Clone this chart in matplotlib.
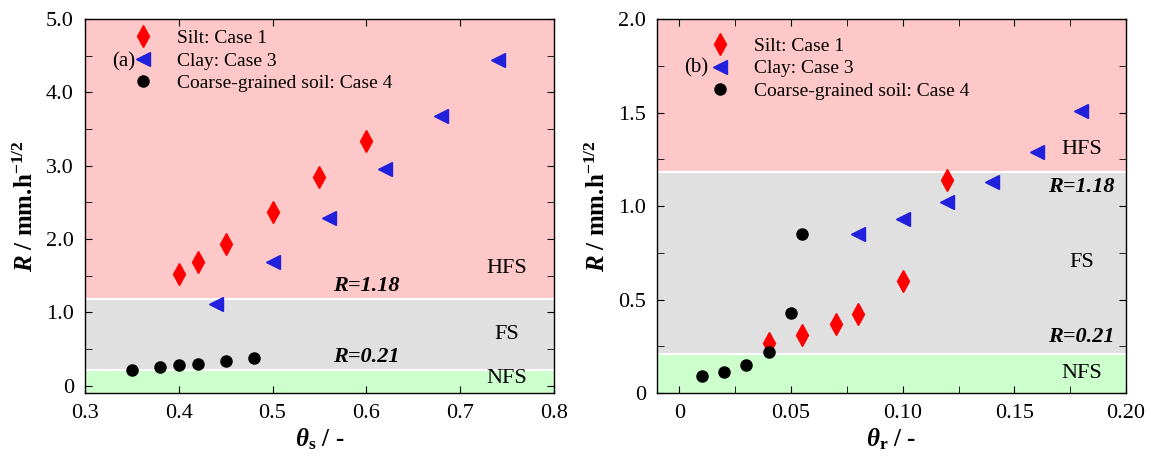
import matplotlib
matplotlib.use('Agg')
import matplotlib.pyplot as plt
from matplotlib.ticker import MultipleLocator, FuncFormatter

plt.rcParams['font.family'] = ['Liberation Serif', 'DejaVu Serif']
plt.rcParams['mathtext.fontset'] = 'custom'
plt.rcParams['mathtext.rm'] = 'Liberation Serif'
plt.rcParams['mathtext.it'] = 'Liberation Serif:italic'
plt.rcParams['mathtext.bf'] = 'Liberation Serif:bold'
plt.rcParams['mathtext.bfit'] = 'Liberation Serif:bold:italic'

## data (a): theta_s
silt_ts = [0.40, 0.42, 0.45, 0.50, 0.55, 0.60]
silt_R_a = [1.52, 1.68, 1.93, 2.37, 2.84, 3.33]
clay_ts = [0.44, 0.50, 0.56, 0.62, 0.68, 0.74]
clay_R_a = [1.12, 1.68, 2.29, 2.96, 3.68, 4.44]
coarse_ts = [0.35, 0.38, 0.40, 0.42, 0.45, 0.48]
coarse_R_a = [0.22, 0.26, 0.28, 0.30, 0.34, 0.38]

## data (b): theta_r
silt_tr = [0.04, 0.055, 0.07, 0.08, 0.10, 0.12]
silt_R_b = [0.27, 0.31, 0.37, 0.42, 0.60, 1.14]
clay_tr = [0.08, 0.10, 0.12, 0.14, 0.16, 0.18]
clay_R_b = [0.85, 0.93, 1.02, 1.13, 1.29, 1.51]
coarse_tr = [0.01, 0.02, 0.03, 0.04, 0.05, 0.055]
coarse_R_b = [0.09, 0.11, 0.15, 0.22, 0.43, 0.85]

R_hfs = 1.18
R_nfs = 0.21

labels = ['Silt: Case 1', 'Clay: Case 3', 'Coarse-grained soil: Case 4']

PINK = '#ffc8c8'
GREY = '#e0e0e0'
GREEN = '#ccffcc'
RED = '#ff0000'
BLUE = '#2020dd'


def setup_zones(ax, ymin, ymax):
    ax.axhspan(R_hfs, ymax, color=PINK, lw=0, zorder=0)
    ax.axhspan(R_nfs, R_hfs, color=GREY, lw=0, zorder=0)
    ax.axhspan(ymin, R_nfs, color=GREEN, lw=0, zorder=0)
    ax.axhline(R_hfs, color='white', lw=1.5, zorder=1)
    ax.axhline(R_nfs, color='white', lw=1.5, zorder=1)


def style_ax(ax):
    ax.tick_params(which='both', direction='in', top=True, right=True,
                   labelsize=16, pad=8, length=5)
    for s in ax.spines.values():
        s.set_linewidth(1.0)


def scatter_sets(ax, xs, ys, leg_xy):
    ax.plot(xs[0], ys[0], 'd', color=RED, ms=11, mec=RED, ls='none', label=labels[0], zorder=3)
    ax.plot(xs[1], ys[1], '<', color=BLUE, ms=10, mec=BLUE, ls='none', label=labels[1], zorder=3)
    ax.plot(xs[2], ys[2], 'o', color='black', ms=8, ls='none', label=labels[2], zorder=3)
    ax.legend(loc='upper left', bbox_to_anchor=leg_xy, frameon=False,
              fontsize=14, handlelength=1.0, handletextpad=1.25,
              labelspacing=0.25, borderpad=0, borderaxespad=0)


fig = plt.figure(figsize=(11.51, 4.65), dpi=100)
ax1 = fig.add_axes([0.0738, 0.1548, 0.4075, 0.8043])
ax2 = fig.add_axes([0.5708, 0.1548, 0.4075, 0.8043])

ylab = r'$\mathbfit{R}$ / mm.h$^{\mathbf{-1/2}}$'

# (a)
setup_zones(ax1, -0.1, 5.0)
scatter_sets(ax1, [silt_ts, clay_ts, coarse_ts], [silt_R_a, clay_R_a, coarse_R_a], (0.103, 0.972))
ax1.set_xlim(0.3, 0.8)
ax1.set_ylim(-0.1, 5.0)
ax1.xaxis.set_major_locator(MultipleLocator(0.1))
ax1.yaxis.set_major_locator(MultipleLocator(1.0))
ax1.yaxis.set_minor_locator(MultipleLocator(0.5))
ax1.yaxis.set_major_formatter(FuncFormatter(lambda v, p: '0' if abs(v) < 1e-9 else '%.1f' % v))
ax1.xaxis.set_major_formatter(FuncFormatter(lambda v, p: '%.1f' % v))
ax1.text(0.058, 0.885, '(a)', transform=ax1.transAxes, fontsize=15, va='center', ha='left')
ax1.text(0.60, 1.36, 'R=1.18', fontsize=16, fontweight='bold', style='italic', ha='center', va='center')
ax1.text(0.60, 0.39, 'R=0.21', fontsize=16, fontweight='bold', style='italic', ha='center', va='center')
ax1.text(0.75, 1.60, 'HFS', fontsize=16, ha='center', va='center')
ax1.text(0.75, 0.70, 'FS', fontsize=16, ha='center', va='center')
ax1.text(0.75, 0.10, 'NFS', fontsize=16, ha='center', va='center')
ax1.set_xlabel(r'$\mathbfit{\theta}_{\mathbf{s}}$ / -', fontsize=18, fontweight='bold', labelpad=2)
ax1.set_ylabel(ylab, fontsize=18, fontweight='bold', labelpad=6)
style_ax(ax1)

# (b)
setup_zones(ax2, 0.0, 2.0)
scatter_sets(ax2, [silt_tr, clay_tr, coarse_tr], [silt_R_b, clay_R_b, coarse_R_b], (0.1145, 0.951))
ax2.set_xlim(-0.01, 0.2)
ax2.set_ylim(0.0, 2.0)
ax2.xaxis.set_major_locator(MultipleLocator(0.05))
ax2.xaxis.set_minor_locator(MultipleLocator(0.025))
ax2.yaxis.set_major_locator(MultipleLocator(0.5))
ax2.yaxis.set_minor_locator(MultipleLocator(0.25))
ax2.yaxis.set_major_formatter(FuncFormatter(lambda v, p: '0' if abs(v) < 1e-9 else '%.1f' % v))
ax2.xaxis.set_major_formatter(FuncFormatter(lambda v, p: '0' if abs(v) < 1e-9 else '%.2f' % v))
ax2.text(0.058, 0.87, '(b)', transform=ax2.transAxes, fontsize=15, va='center', ha='left')
ax2.text(0.18, 1.10, 'R=1.18', fontsize=16, fontweight='bold', style='italic', ha='center', va='center')
ax2.text(0.18, 0.30, 'R=0.21', fontsize=16, fontweight='bold', style='italic', ha='center', va='center')
ax2.text(0.18, 1.30, 'HFS', fontsize=16, ha='center', va='center')
ax2.text(0.18, 0.70, 'FS', fontsize=16, ha='center', va='center')
ax2.text(0.18, 0.107, 'NFS', fontsize=16, ha='center', va='center')
ax2.set_xlabel(r'$\mathbfit{\theta}_{\mathbf{r}}$ / -', fontsize=18, fontweight='bold', labelpad=2)
ax2.set_ylabel(ylab, fontsize=18, fontweight='bold', labelpad=6)
style_ax(ax2)

plt.savefig('out.png', dpi=100)
plt.close('all')
